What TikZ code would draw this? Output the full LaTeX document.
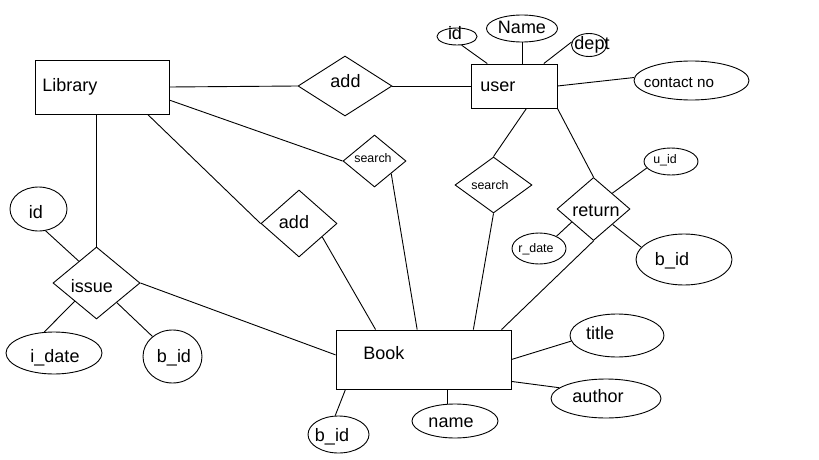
\documentclass[tikz,border=0pt]{standalone}
\usepackage{fontspec}
\setmainfont{Liberation Sans}
\usetikzlibrary{shapes.geometric}
\tikzset{
  ent/.style={draw, rectangle, inner sep=0pt},
  rel/.style={draw, diamond, inner sep=0pt},
  att/.style={draw, ellipse, inner sep=0pt},
  lbl/.style={inner sep=0pt, anchor=base, font=\fontsize{18}{18}\selectfont},
  lblw/.style={lbl, anchor=base west},
  sml/.style={lbl, font=\fontsize{12.4}{13}\selectfont},
  mid/.style={lbl, font=\fontsize{15.2}{16}\selectfont},
  conn/.style={draw, line width=0.9pt}
}
\begin{document}
\begin{tikzpicture}[x=1pt, y=-1pt, line width=0.9pt]
\fill[white] (0,0) rectangle (819,460);
\useasboundingbox (0,0) rectangle (819,460);

% entities
\node[ent, minimum width=134pt, minimum height=54pt] (lib) at (102,87) {};
\node[ent, minimum width=86pt, minimum height=44pt] (user) at (514,86) {};
\node[ent, minimum width=175pt, minimum height=59pt] (book) at (423.5,359.5) {};

% relationships
\node[rel, minimum width=94pt, minimum height=60pt] (addA) at (345,86) {};
\node[rel, minimum width=63pt, minimum height=52pt] (searchA) at (374.5,161) {};
\node[rel, minimum width=76pt, minimum height=67pt] (addB) at (299,223.5) {};
\node[rel, minimum width=87pt, minimum height=72pt] (issue) at (96.5,283) {};
\node[rel, minimum width=77pt, minimum height=56pt] (searchB) at (493.5,185) {};
\node[rel, minimum width=73pt, minimum height=63pt] (ret) at (593.5,209) {};

% attributes
\node[att, minimum width=57pt, minimum height=44pt] (idL) at (38.5,209) {};
\node[att, minimum width=96pt, minimum height=42pt] (idate) at (54,353) {};
\node[att, minimum width=59pt, minimum height=53pt] (bidI) at (172.5,356.5) {};
\node[att, minimum width=61pt, minimum height=37pt] (bidB) at (338.5,434.5) {};
\node[att, minimum width=86pt, minimum height=34pt] (bname) at (455,421) {};
\node[att, minimum width=94pt, minimum height=43pt] (title) at (617,335.5) {};
\node[att, minimum width=110pt, minimum height=39pt] (author) at (606,398.5) {};
\node[att, minimum width=40pt, minimum height=17pt] (idU) at (457,36.5) {};
\node[att, minimum width=71pt, minimum height=27pt] (uname) at (522,28.5) {};
\node[att, minimum width=35pt, minimum height=23pt] (dept) at (589,45) {};
\node[att, minimum width=115pt, minimum height=39pt] (contact) at (691.5,80.5) {};
\node[att, minimum width=54pt, minimum height=27pt] (uid) at (671,161.5) {};
\node[att, minimum width=54pt, minimum height=31pt] (rdate) at (539,248.5) {};
\node[att, minimum width=96pt, minimum height=51pt] (bidR) at (684,259.5) {};

% texts
\node[lblw] (tLib) at (42,91) {Library};
\node[lbl] (tAddA) at (345.5,88) {add};
\node[sml] (tSearchA) at (373,162) {search};
\node[lbl] (tAddB) at (294,228) {add};
\node[lbl] (tIssue) at (92,292) {issue};
\node[lbl] (tIdL) at (36,218) {id};
\node[lbl] (tIdate) at (55,362) {i\_date};
\node[lbl] (tBidI) at (174,362) {b\_id};
\node[lblw] (tBook) at (363,359) {Book};
\node[lbl] (tBidB) at (332,441) {b\_id};
\node[lbl] (tBname) at (451,427) {name};
\node[lbl] (tTitle) at (600,339) {title};
\node[lbl] (tAuthor) at (598,402) {author};
\node[lblw] (tUser) at (480,91) {user};
\node[lbl] (tIdU) at (455,40) {id};
\node[lbl] (tUname) at (522,34) {Name};
\node[lbl] (tDept) at (592,49) {dept};
\node[mid] (tContact) at (679,88) {contact no};
\node[sml] (tSearchB) at (490,189) {search};
\node[lbl] (tRet) at (596,216) {return};
\node[sml] (tUid) at (665,163) {u\_id};
\node[sml] (tRdate) at (536,252) {r\_date};
\node[lbl] (tBidR) at (672,265) {b\_id};

% connectors
\draw[conn] (lib.east) -- (addA.west);
\draw[conn] (addA.east) -- (user.west);
\draw[conn] (lib.-11) -- (searchA.west);
\draw[conn] (lib.-31.5) -- (addB.west);
\draw[conn] (addB.-30.4) -- (book.148.2);
\draw[conn] (searchA.-37.7) -- (book.102.4);
\draw[conn] (lib.south -| issue.north) -- (issue.north);
\draw[conn] (idL.-72.8) -- (issue.129.8);
\draw[conn] (issue.220.2) -- (idate.115.5);
\draw[conn] (issue.-44.3) -- (bidI.135);
\draw[conn] (issue.east) -- (book.177);
\draw[conn] (book.201.3) -- (bidB.100.2);
\draw[conn] (bname.115.2) -- (bname.115.2 |- book.south);
\draw[conn] (book.east) -- (title.187.9);
\draw[conn] (book.-14.4) -- (author.167.7);
\draw[conn] (searchB.south) -- (book.31.8);
\draw[conn] (user.-61.4) -- (searchB.north);
\draw[conn] (user.south east) -- (ret.north);
\draw[conn] (ret.south) -- (book.21.3);
\draw[conn] (ret.40.9) -- (uid.195.8);
\draw[conn] (ret.211.2) -- (rdate.35.7);
\draw[conn] (ret.-39.4) -- (bidR.164.3);
\draw[conn] (idU.-62.2) -- (user.140.8);
\draw[conn] (uname.south) -- (uname.south |- user.north);
\draw[conn] (dept.170) -- (user.37.2);
\draw[conn] (user.east) -- (contact.177.5);
\end{tikzpicture}
\end{document}
